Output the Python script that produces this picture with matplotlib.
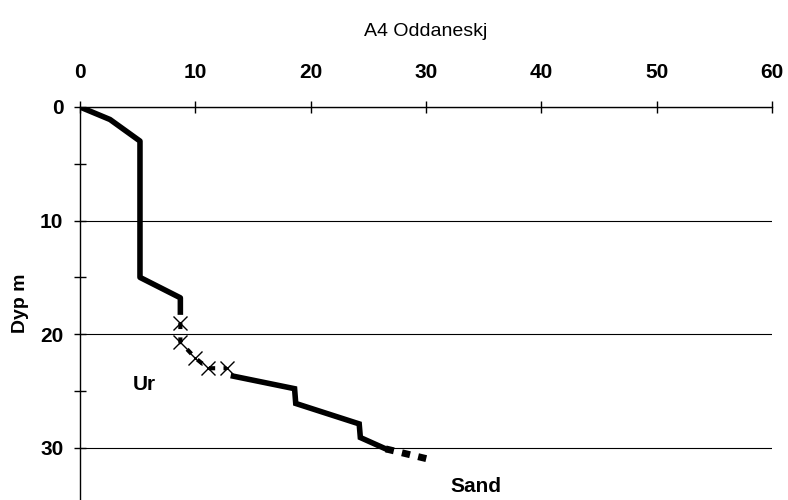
import matplotlib.pyplot as plt

# depth profile
x_top = [0, 2.6, 5.2, 5.2, 8.7, 8.7]
y_top = [0, 1.1, 3.0, 15.0, 16.8, 18.3]
x_cross = [8.7, 8.7, 10.0, 11.1, 12.7]
y_cross = [19.0, 20.7, 22.1, 23.0, 23.0]
x_mid = [13.3, 18.6, 18.7, 24.2, 24.3, 26.5]
y_mid = [23.7, 24.8, 26.1, 27.9, 29.1, 30.1]
x_end = [26.5, 30.6]
y_end = [30.1, 31.1]

xticks = [0, 10, 20, 30, 40, 50, 60]
yticks = [0, 10, 20, 30]

plt.rcParams['font.family'] = ['Liberation Sans Narrow', 'Liberation Sans', 'DejaVu Sans']

fig = plt.figure(figsize=(7.88, 5), dpi=100)
ax = fig.add_axes([0.1015, 0.0, 0.8785, 0.786])

ax.plot(x_top, y_top, color='black', lw=4, solid_capstyle='butt')
ax.plot(x_cross, y_cross, color='black', lw=3, ls=(0, (1.5, 2)),
        marker='x', ms=10, mew=1, mec='black')
ax.plot(x_mid, y_mid, color='black', lw=4, solid_joinstyle='miter')
ax.plot(x_end, y_end, color='black', lw=5, ls=(0, (1.2, 1.2)))

ax.set_xlim(0, 60)
ax.set_ylim(34.6, 0)
ax.xaxis.tick_top()
ax.set_xticks(xticks)
ax.set_yticks(yticks)
ax.set_yticks([5, 15, 25], minor=True)
ax.tick_params(axis='x', direction='inout', length=8, width=1, pad=14,
               labelsize=15)
ax.tick_params(axis='y', which='major', direction='inout', length=8, width=1,
               labelsize=15, pad=8)
ax.tick_params(axis='y', which='minor', direction='inout', length=8, width=1)
for lab in ax.get_xticklabels() + ax.get_yticklabels():
    lab.set_fontweight('bold')

ax.grid(axis='y', color='black', lw=0.8)
ax.spines['right'].set_visible(False)
ax.spines['bottom'].set_visible(False)
for s in ['top', 'left']:
    ax.spines[s].set_linewidth(1)

ax.set_ylabel('Dyp m', fontsize=14, fontweight='bold', labelpad=8)
ax.set_title('A4 Oddaneskj', fontsize=14, pad=51)

ax.text(5.55, 24.4, 'Ur', fontsize=15, fontweight='bold', ha='center', va='center')
ax.text(34.3, 33.4, 'Sand', fontsize=15, fontweight='bold', ha='center', va='center')

plt.savefig('out.png', dpi=100)
